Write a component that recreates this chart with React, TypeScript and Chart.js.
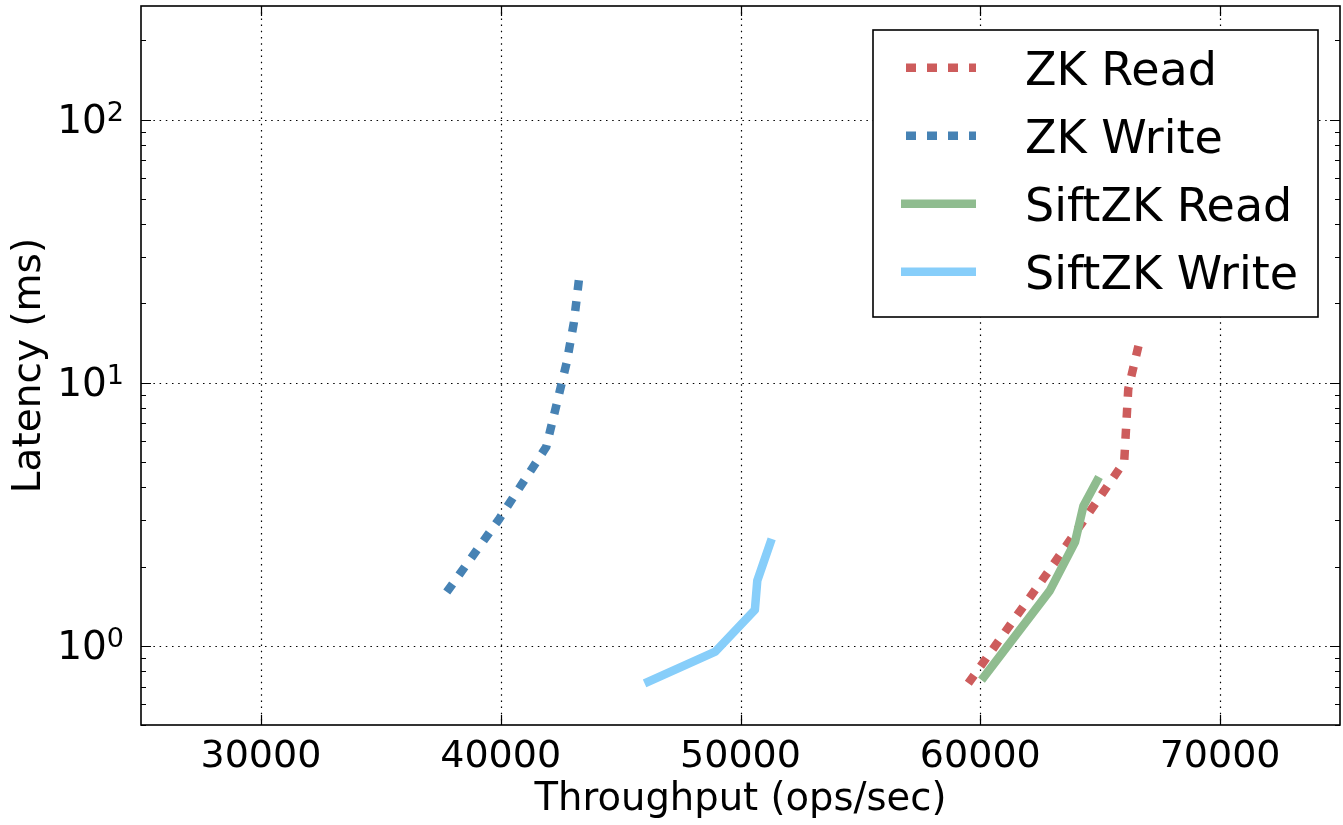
import React, { useEffect, useRef } from "react";
import { Chart, registerables } from "chart.js";

Chart.register(...registerables);

const FONT = "'DejaVu Sans', sans-serif";

const seriesLabels = ["ZK Read", "ZK Write", "SiftZK Read", "SiftZK Write"];
const seriesColors = ["#cd5c5c", "#4682b4", "#8fbc8f", "#87cefa"];
const seriesDotted = [true, true, false, false];

const zkReadX = [59500, 62900, 66000, 66170, 66620];
const zkReadY = [0.72, 1.95, 5.0, 9.45, 14.1];
const zkWriteX = [37750, 39900, 41900, 42750, 43050, 43280];
const zkWriteY = [1.6, 3.0, 5.7, 11.9, 16.9, 25.4];
const siftReadX = [60050, 62900, 63950, 64300, 64950];
const siftReadY = [0.74, 1.62, 2.48, 3.4, 4.38];
const siftWriteX = [46000, 48950, 50600, 50700, 51300];
const siftWriteY = [0.72, 0.95, 1.37, 1.77, 2.55];

const xTicks = [30000, 40000, 50000, 60000, 70000];
const yMajorTicks = [1, 10, 100];
const yMajorExponents = ["0", "1", "2"];
const yMinorTicks = [0.5, 0.6, 0.7, 0.8, 0.9, 2, 3, 4, 5, 6, 7, 8, 9, 20, 30, 40, 50, 60, 70, 80, 90, 200];
const xMin = 25000;
const xMax = 75000;
const yMin = 0.5;
const yMax = 270;

const xTitle = "Throughput (ops/sec)";
const yTitle = "Latency (ms)";

const DOT_DASH = [10, 11];
const LINE_W = 8.5;

const framePlugin = {
  id: "framePlugin",
  beforeDatasetsDraw(chart: any) {
    const { ctx, chartArea: a, scales } = chart;
    ctx.save();
    ctx.strokeStyle = "#000";
    ctx.lineWidth = 1.2;
    ctx.setLineDash([1.5, 4.7]);
    xTicks.forEach((v) => {
      const px = Math.round(scales.x.getPixelForValue(v)) + 0.5;
      ctx.beginPath();
      ctx.moveTo(px, a.top);
      ctx.lineTo(px, a.bottom);
      ctx.stroke();
    });
    yMajorTicks.forEach((v) => {
      const py = Math.round(scales.y.getPixelForValue(v)) + 0.5;
      ctx.beginPath();
      ctx.moveTo(a.left, py);
      ctx.lineTo(a.right, py);
      ctx.stroke();
    });
    ctx.restore();
  },
  afterDatasetsDraw(chart: any) {
    const { ctx, chartArea: a, scales } = chart;
    ctx.save();
    ctx.strokeStyle = "#000";
    ctx.lineWidth = 1.2;
    ctx.setLineDash([]);
    const MAJ = 10;
    const MIN = 5;
    xTicks.forEach((v) => {
      const px = Math.round(scales.x.getPixelForValue(v)) + 0.5;
      ctx.beginPath();
      ctx.moveTo(px, a.bottom);
      ctx.lineTo(px, a.bottom - MAJ);
      ctx.moveTo(px, a.top);
      ctx.lineTo(px, a.top + MAJ);
      ctx.stroke();
    });
    const yt = [...yMajorTicks.map((v) => [v, MAJ]), ...yMinorTicks.map((v) => [v, MIN])];
    yt.forEach(([v, len]) => {
      const py = Math.round(scales.y.getPixelForValue(v)) + 0.5;
      ctx.beginPath();
      ctx.moveTo(a.left, py);
      ctx.lineTo(a.left + len, py);
      ctx.moveTo(a.right, py);
      ctx.lineTo(a.right - len, py);
      ctx.stroke();
    });
    // frame
    ctx.lineWidth = 1.6;
    ctx.strokeRect(a.left, a.top, a.right - a.left, a.bottom - a.top);

    // y tick labels: 10 with raised exponent
    ctx.fillStyle = "#000";
    ctx.textBaseline = "alphabetic";
    ctx.textAlign = "right";
    yMajorTicks.forEach((v, i) => {
      const py = scales.y.getPixelForValue(v);
      const right = a.left - 17;
      const exp = yMajorExponents[i];
      ctx.font = `27px ${FONT}`;
      const supW = ctx.measureText(exp).width;
      ctx.fillText(exp, right, py + 1.7);
      ctx.font = `39px ${FONT}`;
      ctx.fillText("10", right - supW, py + 13.5);
    });

    // legend
    const boxW = 445;
    const boxH = 287;
    const bx = a.right - 22 - boxW;
    const by = a.top + 24;
    ctx.fillStyle = "#fff";
    ctx.fillRect(bx, by, boxW, boxH);
    ctx.lineWidth = 1.6;
    ctx.strokeStyle = "#000";
    ctx.strokeRect(bx, by, boxW, boxH);
    const rowStart = by + 37.7;
    const rowGap = 68;
    chart.data.datasets.forEach((ds: any, i: number) => {
      const cy = rowStart + i * rowGap;
      ctx.save();
      ctx.strokeStyle = ds.borderColor;
      ctx.lineWidth = LINE_W;
      ctx.lineCap = "butt";
      if (seriesDotted[i]) {
        ctx.setLineDash(DOT_DASH);
        ctx.beginPath();
        ctx.moveTo(bx + 33, cy);
        ctx.lineTo(bx + 103, cy);
        ctx.stroke();
      } else {
        ctx.setLineDash([]);
        ctx.beginPath();
        ctx.moveTo(bx + 28, cy);
        ctx.lineTo(bx + 103, cy);
        ctx.stroke();
      }
      ctx.restore();
      ctx.fillStyle = "#000";
      ctx.font = `46px ${FONT}`;
      ctx.textAlign = "left";
      ctx.textBaseline = "alphabetic";
      ctx.fillText(ds.label, bx + 152, cy + 17);
    });
    ctx.restore();
  },
};

const toPoints = (xs: number[], ys: number[]) => xs.map((x, i) => ({ x, y: ys[i] }));

export default function App() {
  const canvasRef = useRef<HTMLCanvasElement | null>(null);

  useEffect(() => {
    if (!canvasRef.current) return;
    const seriesData = [
      toPoints(zkReadX, zkReadY),
      toPoints(zkWriteX, zkWriteY),
      toPoints(siftReadX, siftReadY),
      toPoints(siftWriteX, siftWriteY),
    ];
    const chart = new Chart(canvasRef.current, {
      type: "line",
      data: {
        datasets: seriesLabels.map((label, i) => ({
          label,
          data: seriesData[i],
          borderColor: seriesColors[i],
          backgroundColor: seriesColors[i],
          borderWidth: LINE_W,
          borderDash: seriesDotted[i] ? DOT_DASH : [],
          borderCapStyle: "butt",
          borderJoinStyle: seriesDotted[i] ? "miter" : "round",
          pointRadius: 0,
          pointHoverRadius: 0,
          tension: 0,
          fill: false,
          order: 4 - i,
        })),
      },
      options: {
        animation: false,
        responsive: false,
        devicePixelRatio: 1,
        layout: { padding: { top: 6, right: 3, left: 0, bottom: 0 } },
        plugins: {
          legend: { display: false },
          tooltip: { enabled: false },
        },
        scales: {
          x: {
            type: "linear",
            min: xMin,
            max: xMax,
            afterBuildTicks: (s: any) => {
              s.ticks = xTicks.map((v) => ({ value: v }));
            },
            afterFit: (s: any) => {
              s.height = 100;
              s.paddingLeft = 0;
              s.paddingRight = 0;
            },
            grid: { display: false, drawTicks: false },
            border: { display: false },
            ticks: {
              font: { family: FONT, size: 38 },
              color: "#000",
              padding: 9,
              maxRotation: 0,
              autoSkip: false,
              callback: (v: any) => String(v),
            },
            title: {
              display: true,
              text: xTitle,
              color: "#000",
              font: { family: FONT, size: 38.5 },
              padding: { top: 0, bottom: 2 },
            },
          },
          y: {
            type: "logarithmic",
            min: yMin,
            max: yMax,
            afterBuildTicks: (s: any) => {
              s.ticks = [...yMajorTicks, ...yMinorTicks]
                .sort((p, q) => p - q)
                .map((v) => ({ value: v, major: yMajorTicks.includes(v) }));
            },
            afterFit: (s: any) => {
              s.width = 141;
              s.paddingTop = 0;
              s.paddingBottom = 0;
            },
            grid: { display: false, drawTicks: false },
            border: { display: false },
            ticks: {
              display: false,
              autoSkip: false,
            },
            title: {
              display: true,
              text: yTitle,
              color: "#000",
              font: { family: FONT, size: 39 },
              padding: { top: 6, bottom: 0 },
            },
          },
        },
      } as any,
      plugins: [framePlugin],
    });
    return () => chart.destroy();
  }, []);

  return (
    <div style={{ position: "absolute", left: 0, top: 0, width: 1343, height: 825, background: "#fff" }}>
      <canvas ref={canvasRef} width={1343} height={825} />
    </div>
  );
}
